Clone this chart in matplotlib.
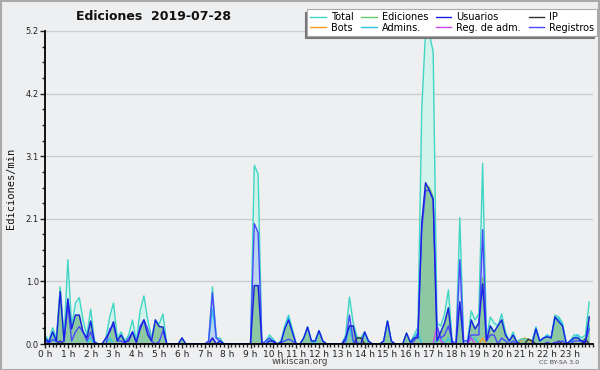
import matplotlib
matplotlib.use("Agg")
import matplotlib.pyplot as plt
import numpy as np
from matplotlib.ticker import FixedLocator, MultipleLocator, AutoMinorLocator

# edits per minute, 10-minute bins (6 per hour)
TOTAL = [
    0.15, 0.05, 0.27, 0.10, 0.95, 0.10,   # 0 h
    1.40, 0.30, 0.68, 0.77, 0.40, 0.15,   # 1 h
    0.58, 0.05, 0.00, 0.00, 0.10, 0.45,   # 2 h
    0.68, 0.10, 0.20, 0.05, 0.15, 0.40,   # 3 h
    0.05, 0.55, 0.80, 0.40, 0.10, 0.40,   # 4 h
    0.33, 0.50, 0.00, 0.00, 0.00, 0.00,   # 5 h
    0.10, 0.00, 0.00, 0.00, 0.00, 0.00,   # 6 h
    0.00, 0.05, 0.95, 0.10, 0.10, 0.00,   # 7 h
    0.00, 0.00, 0.00, 0.00, 0.00, 0.00,   # 8 h
    0.00, 2.97, 2.82, 0.00, 0.05, 0.15,   # 9 h
    0.08, 0.00, 0.05, 0.30, 0.48, 0.25,   # 10 h
    0.00, 0.00, 0.10, 0.28, 0.05, 0.05,   # 11 h
    0.22, 0.05, 0.00, 0.00, 0.00, 0.00,   # 12 h
    0.00, 0.15, 0.78, 0.35, 0.12, 0.10,   # 13 h
    0.20, 0.05, 0.00, 0.00, 0.00, 0.05,   # 14 h
    0.38, 0.05, 0.00, 0.00, 0.00, 0.18,   # 15 h
    0.03, 0.15, 0.28, 3.90, 5.20, 5.15,   # 16 h
    4.85, 0.35, 0.30, 0.50, 0.90, 0.05,   # 17 h
    0.00, 2.10, 0.05, 0.05, 0.55, 0.40,   # 18 h
    0.50, 3.00, 0.10, 0.45, 0.35, 0.30,   # 19 h
    0.50, 0.20, 0.05, 0.20, 0.03, 0.08,   # 20 h
    0.08, 0.08, 0.05, 0.28, 0.05, 0.10,   # 21 h
    0.15, 0.10, 0.48, 0.45, 0.35, 0.00,   # 22 h
    0.05, 0.15, 0.15, 0.10, 0.15, 0.70,   # 23 h
]

EDICIONES = [
    0.10, 0.03, 0.20, 0.05, 0.92, 0.05,
    0.75, 0.25, 0.48, 0.48, 0.20, 0.10,
    0.38, 0.03, 0.00, 0.00, 0.10, 0.20,
    0.37, 0.05, 0.15, 0.03, 0.05, 0.20,
    0.03, 0.25, 0.40, 0.15, 0.05, 0.40,
    0.29, 0.28, 0.00, 0.00, 0.00, 0.00,
    0.10, 0.00, 0.00, 0.00, 0.00, 0.00,
    0.00, 0.00, 0.10, 0.00, 0.05, 0.00,
    0.00, 0.00, 0.00, 0.00, 0.00, 0.00,
    0.00, 0.97, 0.97, 0.00, 0.00, 0.05,
    0.05, 0.00, 0.03, 0.25, 0.40, 0.20,
    0.00, 0.00, 0.10, 0.28, 0.05, 0.05,
    0.22, 0.05, 0.00, 0.00, 0.00, 0.00,
    0.00, 0.10, 0.30, 0.30, 0.10, 0.10,
    0.20, 0.05, 0.00, 0.00, 0.00, 0.05,
    0.38, 0.05, 0.00, 0.00, 0.00, 0.18,
    0.03, 0.10, 0.10, 2.00, 2.65, 2.60,
    2.45, 0.05, 0.20, 0.35, 0.60, 0.00,
    0.00, 0.70, 0.00, 0.00, 0.40, 0.25,
    0.35, 1.10, 0.05, 0.30, 0.20, 0.30,
    0.40, 0.15, 0.05, 0.15, 0.03, 0.08,
    0.08, 0.08, 0.05, 0.25, 0.05, 0.10,
    0.12, 0.10, 0.45, 0.42, 0.30, 0.00,
    0.05, 0.10, 0.10, 0.05, 0.10, 0.45,
]

USUARIOS = [
    0.10, 0.03, 0.20, 0.05, 0.87, 0.05,
    0.75, 0.25, 0.48, 0.48, 0.20, 0.10,
    0.38, 0.03, 0.00, 0.00, 0.10, 0.20,
    0.37, 0.05, 0.15, 0.03, 0.05, 0.20,
    0.03, 0.25, 0.40, 0.15, 0.05, 0.40,
    0.29, 0.28, 0.00, 0.00, 0.00, 0.00,
    0.10, 0.00, 0.00, 0.00, 0.00, 0.00,
    0.00, 0.00, 0.10, 0.00, 0.05, 0.00,
    0.00, 0.00, 0.00, 0.00, 0.00, 0.00,
    0.00, 0.97, 0.97, 0.00, 0.00, 0.05,
    0.05, 0.00, 0.03, 0.25, 0.40, 0.20,
    0.00, 0.00, 0.10, 0.28, 0.05, 0.05,
    0.22, 0.05, 0.00, 0.00, 0.00, 0.00,
    0.00, 0.10, 0.30, 0.30, 0.00, 0.00,
    0.20, 0.05, 0.00, 0.00, 0.00, 0.05,
    0.38, 0.05, 0.00, 0.00, 0.00, 0.18,
    0.03, 0.10, 0.10, 2.00, 2.68, 2.55,
    2.40, 0.05, 0.20, 0.35, 0.60, 0.00,
    0.00, 0.70, 0.00, 0.00, 0.40, 0.25,
    0.35, 1.00, 0.05, 0.30, 0.20, 0.30,
    0.40, 0.15, 0.05, 0.15, 0.03, 0.00,
    0.00, 0.00, 0.00, 0.25, 0.05, 0.10,
    0.12, 0.10, 0.45, 0.37, 0.30, 0.00,
    0.05, 0.10, 0.10, 0.05, 0.02, 0.45,
]

REGISTROS = [
    0.05, 0.02, 0.07, 0.05, 0.03, 0.05,
    0.65, 0.05, 0.20, 0.29, 0.20, 0.05,
    0.20, 0.02, 0.00, 0.00, 0.00, 0.25,
    0.31, 0.05, 0.05, 0.02, 0.10, 0.20,
    0.02, 0.30, 0.40, 0.25, 0.05, 0.00,
    0.04, 0.22, 0.00, 0.00, 0.00, 0.00,
    0.00, 0.00, 0.00, 0.00, 0.00, 0.00,
    0.00, 0.05, 0.85, 0.10, 0.05, 0.00,
    0.00, 0.00, 0.00, 0.00, 0.00, 0.00,
    0.00, 2.00, 1.85, 0.00, 0.05, 0.10,
    0.03, 0.00, 0.02, 0.05, 0.08, 0.05,
    0.00, 0.00, 0.00, 0.00, 0.00, 0.00,
    0.00, 0.00, 0.00, 0.00, 0.00, 0.00,
    0.00, 0.05, 0.48, 0.05, 0.02, 0.00,
    0.00, 0.00, 0.00, 0.00, 0.00, 0.00,
    0.00, 0.00, 0.00, 0.00, 0.00, 0.00,
    0.00, 0.05, 0.18, 1.90, 2.55, 2.55,
    2.40, 0.30, 0.10, 0.15, 0.30, 0.05,
    0.00, 1.40, 0.05, 0.05, 0.15, 0.15,
    0.15, 1.90, 0.05, 0.15, 0.15, 0.00,
    0.10, 0.05, 0.00, 0.05, 0.00, 0.00,
    0.00, 0.00, 0.00, 0.00, 0.00, 0.00,
    0.03, 0.00, 0.03, 0.03, 0.05, 0.00,
    0.00, 0.05, 0.05, 0.05, 0.05, 0.25,
]

# sparse series: (bin, value)
ADMINS = [(0, 0.10), (2, 0.20), (12, 0.10), (17, 0.10), (43, 0.05), (44, 0.58),
          (45, 0.10), (46, 0.05), (59, 0.10), (60, 0.05), (63, 0.25), (64, 0.45),
          (65, 0.20), (68, 0.10), (69, 0.28), (70, 0.05), (72, 0.22), (73, 0.05),
          (80, 0.30), (84, 0.20), (89, 0.05), (90, 0.38), (91, 0.05), (97, 0.10),
          (98, 0.20), (103, 0.05), (104, 0.10), (106, 0.10), (112, 0.10),
          (113, 0.10), (129, 0.28), (130, 0.05), (131, 0.10), (132, 0.15),
          (133, 0.10), (134, 0.42), (135, 0.42), (136, 0.30), (139, 0.10),
          (140, 0.15), (143, 0.30)]
REG_ADM = [(44, 0.10), (103, 0.30), (104, 0.05), (112, 0.10)]
BOTS = [(115, 0.10), (125, 0.05), (126, 0.10), (127, 0.08)]
IP = [(4, 0.05), (82, 0.10), (83, 0.10), (127, 0.08), (128, 0.05), (135, 0.05), (142, 0.08)]

HOUR_LABELS = ["%d h" % h for h in range(24)]
Y_TICKS = [0.0, 1.04, 2.08, 3.12, 4.16, 5.2]


def sparse(pairs, n=144):
    arr = np.zeros(n)
    for i, v in pairs:
        arr[i] = v
    return arr


x = np.arange(len(TOTAL)) / 6.0
total = np.array(TOTAL)
edits = np.array(EDICIONES)
users = np.array(USUARIOS)
logs = np.array(REGISTROS)

BG = '#eeeff1'
fig = plt.figure(figsize=(6, 3.7), dpi=100, facecolor=BG)
ax = fig.add_axes([45 / 600, 26 / 370, 548 / 600, 313 / 370])
ax.set_facecolor(BG)

# fills
ax.fill_between(x, total, color='#d4f2ec', lw=0, zorder=1)
ax.fill_between(x, logs, color='#bcd6ee', lw=0, zorder=2)
ax.fill_between(x, edits, color='#8cc8a2', lw=0, zorder=3)

# lines
lw = 1.0
h_total, = ax.plot(x, total, color='#3fd6c4', lw=lw, zorder=5, label='Total')
h_edit, = ax.plot(x, edits, color='#66cc66', lw=lw, zorder=4, label='Ediciones')
h_bots, = ax.plot(x, sparse(BOTS), color='#ff9922', lw=lw, zorder=4, label='Bots')
h_admin, = ax.plot(x, sparse(ADMINS), color='#2ec4e6', lw=lw, zorder=6, label='Admins.')
h_ip, = ax.plot(x, sparse(IP), color='#333333', lw=lw, zorder=6, label='IP')
h_regadm, = ax.plot(x, sparse(REG_ADM), color='#cc44ee', lw=lw, zorder=6, label='Reg. de adm.')
h_logs, = ax.plot(x, logs, color='#4848ff', lw=lw, zorder=7, label='Registros')
h_users, = ax.plot(x, users, color='#1c1ce8', lw=lw, zorder=8, label='Usuarios')

# axes
ax.set_xlim(0, 24)
ax.set_ylim(0, 5.2)
for s in ['top', 'right']:
    ax.spines[s].set_visible(False)
for s in ['left', 'bottom']:
    ax.spines[s].set_linewidth(1.3)
    ax.spines[s].set_zorder(10)

ax.xaxis.set_major_locator(FixedLocator(range(24)))
ax.set_xticklabels(HOUR_LABELS)
ax.xaxis.set_minor_locator(MultipleLocator(1 / 6))
ax.yaxis.set_major_locator(FixedLocator(Y_TICKS))
ax.set_yticklabels(["%.1f" % v for v in Y_TICKS])
ax.yaxis.set_minor_locator(AutoMinorLocator(4))
ax.tick_params(axis='x', which='major', length=3, width=1, labelsize=6.5, pad=1, colors='#222222')
ax.tick_params(axis='x', which='minor', length=2.5, width=1, colors='#222222')
ax.tick_params(axis='y', which='major', length=3.5, width=1, labelsize=6, pad=1, colors='#222222')
ax.tick_params(axis='y', which='minor', length=2.5, width=1, colors='#222222')
ax.grid(axis='y', which='major', color='#cccccc', lw=1)
ax.set_axisbelow(True)

# texts
fig.text(0.255, 0.955, 'Ediciones  2019-07-28', ha='center', va='center',
         fontsize=9, fontweight='bold', color='#111111')
fig.text(0.018, 0.49, 'Ediciones/min', rotation=90, ha='center', va='center',
         fontsize=7.5, family='DejaVu Sans Mono', color='#111111')
fig.text(0.5, 0.022, 'wikiscan.org', ha='center', va='center', fontsize=6.5, color='#444444')
fig.text(0.932, 0.02, 'CC BY-SA 3.0', ha='center', va='center', fontsize=4.5, color='#444444')

# legend (column-major order for 4 columns)
handles = [h_total, h_bots, h_edit, h_admin, h_users, h_regadm, h_ip, h_logs]
leg = fig.legend(handles=handles, ncol=4, loc='upper right', bbox_to_anchor=(0.995, 0.975),
                 fontsize=7, frameon=True, fancybox=False, handlelength=1.6,
                 handletextpad=0.5, columnspacing=0.8, labelspacing=0.05,
                 borderpad=0.3, borderaxespad=0,
                 shadow={'ox': -2, 'oy': -2, 'color': '#777777', 'alpha': 1})
leg.get_frame().set_edgecolor('#aaaaaa')
leg.get_frame().set_linewidth(0.8)
leg.get_frame().set_facecolor('white')

# outer frame
fig.patches.append(plt.Rectangle((0.001, 0.001), 0.998, 0.997, transform=fig.transFigure,
                                 fill=False, edgecolor='#aaaaaa', lw=1.5))

fig.savefig('out.png', dpi=100, facecolor=BG)
